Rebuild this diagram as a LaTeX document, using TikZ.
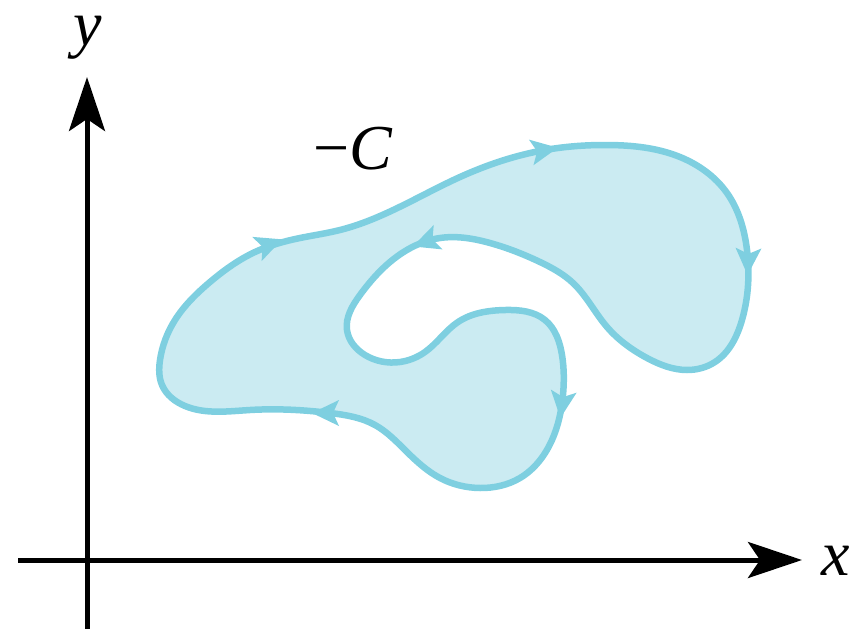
\documentclass[tikz,border=0pt]{standalone}
\usepackage{fontspec}
\setmainfont{Liberation Serif}
\usetikzlibrary{arrows.meta,hobby}
\definecolor{curvecol}{RGB}{126,207,224}
\definecolor{fillcol}{RGB}{203,235,242}
\begin{document}
\begin{tikzpicture}[x=1pt,y=-1pt,
  axis/.style={line width=5pt,black,-{Stealth[length=54pt,width=36pt,inset=12pt]}},
  curve/.style={line width=6.5pt,draw=curvecol,fill=fillcol,line join=round},
  lbl/.style={font=\fontsize{64}{74}\selectfont\itshape,inner sep=0pt},
  flowarrow/.pic={\fill[curvecol] (13,0) -- (-14,13) -- (-8,0) -- (-14,-13) -- cycle;}]
\useasboundingbox (0,0) rectangle (854,629);
% axes
\coordinate (O) at (87,560);
\coordinate (xs) at (18,560);
\coordinate (xe) at (802,560);
\coordinate (ys) at (87,629);
\coordinate (ye) at (87,77);
\draw[axis] (xs) -- (xe);
\draw[axis] (ys) -- (ye);
\node[lbl] (xlab) at (836,561) {x};
\node[lbl] (ylab) at (88,38) {y};
\node[lbl] (clab) at (353,149) {{\upshape −}C};
% region with boundary
\path[curve,use Hobby shortcut,closed=true]
 (340,230) .. (460,177) .. (545,150) .. (607,145) .. (680,157) .. (727,193) .. (747,250) ..
 (742,320) .. (715,362) .. (687,370) .. (647,358) .. (607,327) .. (573,283) .. (540,262) ..
 (490,243) .. (440,238) .. (395,258) .. (360,295) .. (347,330) .. (365,355) .. (400,362) ..
 (425,352) .. (458,322) .. (505,310) .. (545,320) .. (562,355) .. (563,395) .. (552,440) ..
 (520,478) .. (480,488) .. (440,478) .. (407,452) .. (375,425) .. (330,413) .. (250,410) ..
 (185,406) .. (162,385) .. (160,360) .. (175,320) .. (210,282) .. (255,252) .. (300,238);
% orientation arrows
\pic[rotate=21] at (270,244) {flowarrow};
\pic[rotate=10] at (545,150) {flowarrow};
\pic[rotate=-92] at (748,262) {flowarrow};
\pic[rotate=-97] at (562,405) {flowarrow};
\pic[rotate=180] at (325,413) {flowarrow};
\pic[rotate=200] at (425,242) {flowarrow};
\end{tikzpicture}
\end{document}
